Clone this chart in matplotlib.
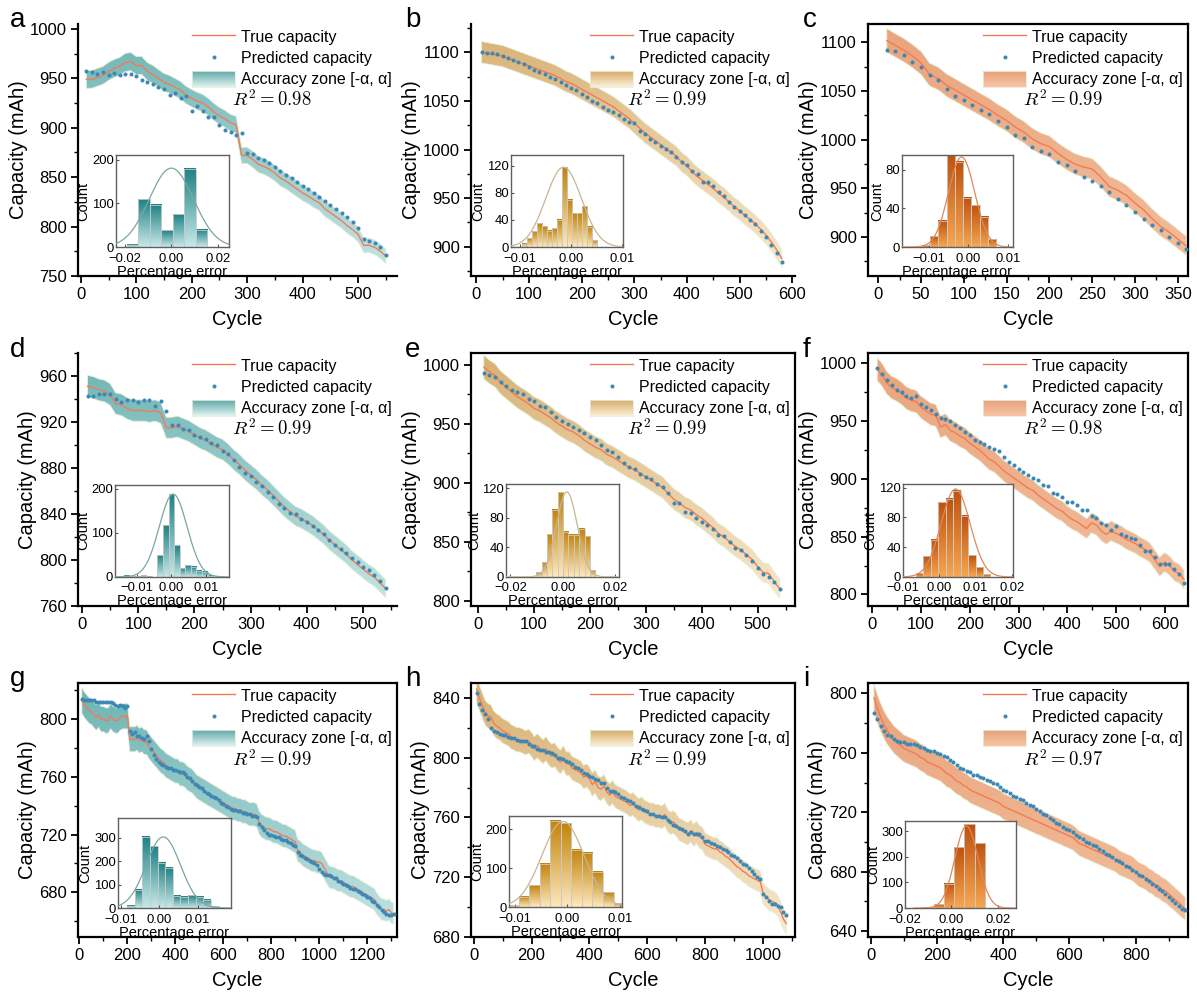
import numpy as np
import matplotlib
matplotlib.use('Agg')
import matplotlib.pyplot as plt
from matplotlib.patches import Rectangle, Patch
from matplotlib.lines import Line2D
from matplotlib.legend_handler import HandlerBase
from matplotlib.colors import LinearSegmentedColormap
from matplotlib.ticker import MultipleLocator

plt.rcParams['font.family'] = ['Liberation Sans', 'DejaVu Sans']
plt.rcParams['mathtext.fontset'] = 'cm'

# ---------------- data ----------------
# capacity curves, one value every 10 cycles starting at cycle 10
a_true = [949, 949, 951, 953, 957, 960, 962, 966, 967, 963,
          963, 957, 954, 950, 946, 944, 941, 938, 933, 930,
          927, 925, 921, 916, 912, 909, 905, 903, 872, 872,
          868, 863, 861, 858, 854, 849, 846, 842, 838, 834,
          831, 827, 824, 818, 814, 810, 806, 801, 797, 792,
          781, 781, 779, 775, 770]
a_pred = [957, 956, 954, 956, 953, 955, 953, 954, 954, 952,
          948, 946, 944, 941, 939, 933, 935, 930, 932, 917,
          922, 917, 911, 911, 903, 898, 896, 893, 895, 874,
          873, 869, 867, 864, 860, 856, 852, 849, 845, 841,
          838, 834, 830, 826, 822, 818, 814, 810, 805, 799,
          787, 785, 783, 779, 771]

b_true = [1100, 1099, 1098, 1097, 1096, 1094, 1092, 1090, 1088, 1086,
          1084, 1082, 1080, 1078, 1076, 1073, 1070, 1068, 1065, 1062,
          1059, 1056, 1053, 1050, 1047, 1044, 1040, 1036, 1032, 1027,
          1022, 1017, 1013, 1009, 1005, 1001, 997, 993, 987, 983,
          977, 972, 968, 964, 960, 955, 951, 946, 941, 937,
          932, 928, 923, 918, 912, 905, 897, 888]
b_pred = [1100, 1099, 1099, 1098, 1096, 1094, 1092, 1090, 1088, 1085,
          1082, 1080, 1078, 1075, 1072, 1069, 1066, 1063, 1061, 1057,
          1054, 1050, 1048, 1044, 1041, 1039, 1035, 1031, 1028, 1027,
          1019, 1016, 1011, 1008, 1004, 1001, 997, 992, 987, 984,
          978, 975, 967, 967, 962, 956, 952, 946, 941, 937,
          933, 928, 923, 916, 910, 902, 894, 884]

c_true = [1102, 1097, 1092, 1086, 1079, 1067, 1063, 1056, 1051, 1046,
          1041, 1036, 1031, 1025, 1020, 1013, 1008, 1001, 996, 993,
          986, 980, 975, 972, 970, 962, 952, 948, 943, 935,
          928, 919, 911, 905, 898, 891]
c_pred = [1092, 1091, 1087, 1080, 1075, 1067, 1061, 1052, 1045, 1041,
          1036, 1031, 1026, 1019, 1013, 1005, 1002, 993, 988, 985,
          977, 974, 968, 962, 958, 953, 946, 939, 933, 926,
          919, 912, 907, 900, 894, 888]

d_true = [951, 950, 948, 947, 944, 936, 935, 932, 930, 930,
          930, 929, 930, 928, 915, 915, 916, 914, 912, 909,
          906, 904, 901, 898, 896, 892, 887, 883, 878, 874,
          870, 865, 861, 856, 851, 846, 842, 838, 836, 833,
          830, 826, 822, 817, 813, 809, 805, 800, 796, 792,
          788, 785, 780, 775]
d_pred = [943, 943, 944, 944, 944, 940, 937, 939, 939, 937,
          939, 939, 934, 938, 930, 917, 917, 914, 913, 909,
          907, 905, 902, 900, 895, 892, 887, 881, 876, 873,
          868, 864, 859, 855, 849, 845, 841, 840, 836, 833,
          830, 826, 823, 817, 813, 810, 806, 802, 798, 794,
          791, 787, 782, 776]

e_true = [998, 994, 991, 985, 981, 977, 973, 970, 967, 963,
          961, 958, 955, 951, 948, 945, 943, 940, 936, 933,
          930, 928, 924, 922, 919, 916, 913, 911, 908, 905,
          902, 899, 896, 891, 886, 883, 879, 877, 873, 870,
          866, 862, 857, 854, 850, 846, 843, 839, 835, 829,
          824, 823, 816, 810]
e_pred = [993, 991, 990, 985, 982, 979, 977, 975, 971, 969,
          965, 964, 960, 956, 952, 950, 947, 945, 942, 939,
          936, 932, 928, 926, 922, 917, 913, 912, 907, 905,
          903, 899, 896, 891, 883, 883, 875, 874, 870, 867,
          864, 861, 856, 855, 850, 845, 843, 839, 834, 828,
          823, 820, 816, 810]

f_true = [995, 990, 983, 979, 977, 974, 970, 968, 967, 962,
          959, 956, 955, 945, 947, 942, 940, 937, 935, 931,
          928, 925, 921, 917, 915, 911, 907, 904, 901, 898,
          895, 892, 890, 886, 883, 880, 877, 874, 872, 868,
          865, 863, 860, 857, 862, 860, 855, 852, 855, 853,
          851, 848, 846, 844, 841, 839, 836, 830, 824, 828,
          825, 820, 818, 813]
f_pred = [996, 991, 986, 981, 977, 975, 972, 970, 972, 965,
          962, 960, 956, 953, 952, 950, 947, 944, 941, 938,
          934, 932, 930, 928, 926, 924, 919, 915, 912, 909,
          906, 903, 901, 899, 895, 894, 888, 887, 884, 880,
          880, 877, 873, 873, 868, 866, 862, 860, 856, 859,
          852, 851, 849, 848, 843, 838, 838, 832, 826, 826,
          826, 822, 818, 810]

g_true = [813, 810, 808, 806, 805, 803, 801, 803, 800, 800,
          799, 799, 802, 800, 799, 799, 801, 802, 802, 802,
          786, 786, 786, 787, 785, 786, 784, 784, 781, 779,
          777, 775, 773, 771, 770, 768, 767, 766, 765, 764,
          764, 762, 762, 761, 759, 758, 757, 755, 753, 752,
          751, 750, 749, 748, 747, 746, 745, 744, 743, 742,
          741, 740, 739, 738, 738, 737, 737, 736, 736, 735,
          734, 734, 734, 733, 728, 726, 725, 724, 724, 723,
          722, 722, 721, 720, 719, 719, 718, 717, 716, 715,
          709, 708, 706, 705, 704, 703, 702, 702, 701, 701,
          700, 697, 694, 691, 690, 690, 689, 688, 688, 687,
          686, 685, 684, 684, 683, 682, 681, 680, 679, 678,
          677, 676, 675, 672, 670, 668, 668, 667, 668, 666, 665]
g_pred = [814, 813, 813, 813, 813, 813, 812, 812, 812, 812,
          812, 812, 812, 811, 810, 809, 810, 809, 808, 809,
          792, 790, 791, 788, 788, 787, 786, 788, 785, 779,
          775, 772, 770, 769, 768, 767, 766, 766, 765, 765,
          764, 763, 763, 762, 760, 759, 757, 755, 754, 753,
          752, 750, 749, 748, 747, 746, 745, 744, 742, 741,
          740, 739, 738, 737, 737, 736, 736, 735, 735, 734,
          734, 733, 733, 732, 727, 725, 723, 721, 720, 720,
          719, 718, 718, 717, 716, 716, 715, 714, 713, 712,
          708, 706, 705, 704, 703, 702, 701, 700, 699, 696,
          694, 693, 692, 692, 691, 690, 690, 688, 687, 686,
          685, 684, 683, 682, 682, 681, 680, 679, 678, 677,
          676, 674, 673, 671, 670, 668, 666, 665, 664, 664, 665]

h_true = [846, 840, 835, 830, 828, 827, 823, 821, 820, 818,
          817, 816, 814, 813, 812, 812, 811, 810, 811, 809,
          806, 808, 806, 804, 806, 803, 801, 802, 799, 797,
          800, 796, 796, 793, 792, 791, 790, 787, 788, 786,
          782, 784, 780, 779, 781, 777, 775, 777, 774, 773,
          772, 771, 770, 768, 769, 767, 765, 766, 764, 763,
          762, 762, 761, 761, 760, 762, 758, 756, 757, 755,
          752, 751, 750, 749, 751, 748, 750, 747, 746, 742,
          741, 740, 739, 739, 737, 736, 734, 733, 731, 729,
          727, 726, 724, 723, 721, 720, 719, 718, 717, 709,
          707, 705, 704, 703, 701, 697, 692, 689]
h_pred = [843, 836, 832, 829, 826, 820, 818, 817, 816, 815,
          815, 814, 813, 813, 812, 811, 811, 811, 809, 808,
          808, 806, 805, 805, 804, 804, 803, 802, 800, 800,
          799, 798, 797, 796, 794, 793, 792, 790, 789, 788,
          787, 786, 785, 783, 783, 780, 778, 778, 777, 776,
          774, 773, 772, 771, 770, 768, 767, 766, 765, 764,
          762, 762, 761, 761, 760, 760, 758, 757, 755, 754,
          753, 752, 751, 749, 750, 749, 749, 749, 747, 744,
          744, 743, 742, 741, 740, 739, 738, 737, 735, 734,
          733, 731, 729, 728, 726, 724, 722, 720, 719, 709,
          707, 704, 702, 702, 701, 700, 697, 695]

i_true = [797, 790, 784, 779, 775, 772, 769, 767, 765, 763,
          762, 761, 760, 759, 757, 756, 754, 753, 752, 751,
          750, 748, 746, 745, 743, 741, 740, 738, 737, 735,
          734, 733, 732, 731, 730, 729, 728, 727, 726, 724,
          723, 722, 721, 720, 719, 718, 717, 716, 715, 714,
          713, 712, 711, 710, 709, 708, 707, 706, 705, 704,
          703, 701, 699, 698, 697, 696, 695, 694, 693, 692,
          691, 690, 689, 688, 686, 685, 684, 683, 682, 680,
          678, 677, 676, 674, 673, 671, 670, 668, 667, 665,
          663, 661, 659, 657, 655]
i_pred = [787, 783, 778, 775, 772, 771, 769, 768, 767, 767,
          766, 766, 766, 765, 764, 763, 762, 761, 761, 760,
          759, 758, 757, 755, 754, 752, 750, 749, 748, 747,
          745, 745, 744, 743, 742, 741, 740, 739, 737, 735,
          734, 733, 731, 730, 729, 728, 726, 725, 724, 722,
          721, 719, 718, 716, 715, 713, 712, 710, 709, 708,
          707, 705, 703, 702, 700, 699, 698, 697, 695, 694,
          692, 691, 690, 688, 687, 686, 684, 683, 681, 680,
          678, 677, 675, 674, 672, 670, 668, 667, 665, 663,
          661, 659, 657, 655, 654]

# accuracy zone half-width (fraction of true capacity) and R^2
alphas = [0.0095, 0.010, 0.011, 0.010, 0.010, 0.010, 0.011, 0.010, 0.012]
r2_vals = ['0.98', '0.99', '0.99', '0.99', '0.99', '0.98', '0.99', '0.99', '0.97']

# percentage-error histograms: first bin edge, bin width, counts
a_hist = (-0.0190, 0.0049, [5, 110, 97, 38, 75, 180, 40])
b_hist = (-0.0096, 0.00098, [5, 13, 23, 35, 31, 24, 28, 40, 118, 70, 50, 50, 60, 30, 10])
c_hist = (-0.0117, 0.00208, [2, 11, 27, 96, 88, 51, 43, 31, 8])
d_hist = (-0.0152, 0.0016, [2, 3, 2, 1, 4, 2, 0, 49, 118, 188, 72, 20, 27, 23, 14, 12, 3])
e_hist = (-0.0102, 0.00205, [6, 20, 58, 91, 115, 61, 57, 57, 65, 55, 9])
f_hist = (-0.0064, 0.00205, [5, 28, 50, 100, 105, 116, 82, 29, 13, 4])
g_hist = (-0.0085, 0.0020, [10, 78, 303, 263, 193, 172, 52, 48, 55, 48, 35, 8])
h_hist = (-0.0112, 0.0020, [5, 27, 56, 111, 222, 215, 147, 140, 91, 38, 10])
i_hist = (-0.0120, 0.0044, [3, 15, 95, 238, 327, 253])

# fitted normal curve: mean, std, peak height
fits = [(0.0, 0.0095, 181), (-0.0014, 0.0035, 118), (-0.0017, 0.0033, 93),
        (0.0005, 0.0040, 188), (0.0015, 0.0040, 115), (0.0045, 0.0040, 118),
        (0.0010, 0.0045, 303), (-0.0008, 0.0040, 220), (0.0065, 0.0050, 320)]

# ---------------- styling ----------------
teal = dict(band_top='#6cb3b3', band_bot='#c5e5e4', hist_top='#1e8184', hist_bot='#c8e9e9',
            curve='#7aa6a6', leg_top='#5ea9a9', leg_bot='#e2f2f1')
gold = dict(band_top='#d8b072', band_bot='#f9ead0', hist_top='#c3830a', hist_bot='#fee9bd',
            curve='#c8b594', leg_top='#d6ab68', leg_bot='#fcefd8')
orange = dict(band_top='#e9a47c', band_bot='#f3bf9c', hist_top='#bf520d', hist_bot='#f7a751',
              curve='#e0875a', leg_top='#e8a07a', leg_bot='#f6c5a5')

LINE_C = '#f37b54'
DOT_C = '#3d88b5'

panels = [
    dict(letter='a', true=a_true, pred=a_pred, hist=a_hist, theme=teal, frame=False,
         xlim=(-5, 570), ylim=(750, 1005), xt=(100, 50), yt=(50, 25),
         inset=[0.119, 0.115, 0.354, 0.365], hxlim=(-0.0237, 0.0246), hylim=(0, 211),
         hxt=[-0.02, 0.0, 0.02], hyt=[0, 100, 200]),
    dict(letter='b', true=b_true, pred=b_pred, hist=b_hist, theme=gold, frame=False,
         xlim=(-10, 605), ylim=(870, 1129), xt=(100, 50), yt=(50, 25),
         inset=[0.123, 0.115, 0.346, 0.365], hxlim=(-0.0117, 0.0102), hylim=(0, 136),
         hxt=[-0.01, 0.0, 0.01], hyt=[0, 40, 80, 120]),
    dict(letter='c', true=c_true, pred=c_pred, hist=c_hist, theme=orange, frame=True,
         xlim=(-12, 362), ylim=(860, 1119), xt=(50, 25), yt=(50, 25),
         inset=[0.106, 0.115, 0.347, 0.365], hxlim=(-0.0167, 0.0112), hylim=(0, 95),
         hxt=[-0.01, 0.0, 0.01], hyt=[0, 40, 80]),
    dict(letter='d', true=d_true, pred=d_pred, hist=d_hist, theme=teal, frame=False,
         xlim=(-7, 560), ylim=(760, 980), xt=(100, 50), yt=(40, 20),
         inset=[0.116, 0.115, 0.357, 0.364], hxlim=(-0.0162, 0.0165), hylim=(0, 209),
         hxt=[-0.01, 0.0, 0.01], hyt=[0, 100, 200]),
    dict(letter='e', true=e_true, pred=e_pred, hist=e_hist, theme=gold, frame=True,
         xlim=(-13, 567), ylim=(795.5, 1010), xt=(100, 50), yt=(50, 25),
         inset=[0.108, 0.115, 0.349, 0.368], hxlim=(-0.0217, 0.0214), hylim=(0, 126),
         hxt=[-0.02, 0.0, 0.02], hyt=[0, 40, 80, 120]),
    dict(letter='f', true=f_true, pred=f_pred, hist=f_hist, theme=orange, frame=True,
         xlim=(-9, 648), ylim=(790, 1009), xt=(100, 50), yt=(50, 25),
         inset=[0.109, 0.115, 0.344, 0.368], hxlim=(-0.0100, 0.0203), hylim=(0, 125),
         hxt=[-0.01, 0.0, 0.01, 0.02], hyt=[0, 40, 80, 120]),
    dict(letter='g', true=g_true, pred=g_pred, hist=g_hist, theme=teal, frame=True,
         xlim=(-6, 1324), ylim=(649, 825), xt=(200, 100), yt=(40, 20),
         inset=[0.125, 0.114, 0.354, 0.354], hxlim=(-0.0109, 0.0187), hylim=(0, 383),
         hxt=[-0.01, 0.0, 0.01], hyt=[0, 100, 200, 300]),
    dict(letter='h', true=h_true, pred=h_pred, hist=h_hist, theme=gold, frame=True,
         xlim=(-9, 1110), ylim=(680, 850), xt=(200, 100), yt=(40, 20),
         inset=[0.118, 0.118, 0.348, 0.358], hxlim=(-0.0110, 0.0104), hylim=(0, 234),
         hxt=[-0.01, 0.0, 0.01], hyt=[0, 100, 200]),
    dict(letter='i', true=i_true, pred=i_pred, hist=i_hist, theme=orange, frame=True,
         xlim=(-8, 958), ylim=(636, 807), xt=(200, 100), yt=(40, 20),
         inset=[0.116, 0.114, 0.345, 0.343], hxlim=(-0.0163, 0.0277), hylim=(0, 340),
         hxt=[-0.02, 0.0, 0.02], hyt=[0, 100, 200, 300]),
]


class GradPatch(Patch):
    def __init__(self, top, bot):
        super().__init__()
        self.top = top
        self.bot = bot


class GradHandler(HandlerBase):
    def create_artists(self, legend, orig, xd, yd, w, h, fs, trans):
        cmap = LinearSegmentedColormap.from_list('leg', [orig.bot, orig.top])
        n = 24
        arts = []
        for k in range(n):
            arts.append(Rectangle((-xd, -yd + h * k / n), w, h / n * 1.05,
                                  fc=cmap((k + 0.5) / n), ec='none', transform=trans))
        arts.append(Rectangle((-xd, -yd), w, h, fill=False, ec='#e6efd8', lw=0.6,
                              transform=trans))
        return arts


W, H = 1197, 998
fig = plt.figure(figsize=(W / 100, H / 100), dpi=100)

col_left = [78, 471, 868]
col_w = [319, 324, 320]
row_top = [24, 353, 683]
row_bot = [276, 606, 937]
letter_x = [10, 405, 803]
letter_base = [27, 357, 686]

grad = np.linspace(0, 1, 256).reshape(-1, 1)

for k, p in enumerate(panels):
    r, c = divmod(k, 3)
    rect = [col_left[c] / W, 1 - row_bot[r] / H, col_w[c] / W, (row_bot[r] - row_top[r]) / H]
    ax = fig.add_axes(rect)
    th = p['theme']
    y_true = np.array(p['true'], dtype=float)
    y_pred = np.array(p['pred'], dtype=float)
    cyc = np.arange(10, 10 * len(y_true) + 1, 10)
    al = alphas[k]

    # accuracy zone with vertical colour gradient
    poly = ax.fill_between(cyc, y_true * (1 - al), y_true * (1 + al), facecolor='none',
                           edgecolor='#e6efd8', lw=0.6, zorder=1.2)
    bcmap = LinearSegmentedColormap.from_list('band', [th['band_bot'], th['band_top']])
    im = ax.imshow(grad, extent=[p['xlim'][0], p['xlim'][1], p['ylim'][0], p['ylim'][1]],
                   origin='lower', aspect='auto', cmap=bcmap, zorder=1)
    im.set_clip_path(poly.get_paths()[0], transform=ax.transData)

    ax.plot(cyc, y_true, color=LINE_C, lw=1.0, zorder=3)
    ax.plot(cyc, y_pred, ls='none', marker='o', ms=2.9, mew=0, color=DOT_C, zorder=4)

    ax.set_xlim(*p['xlim'])
    ax.set_ylim(*p['ylim'])
    ax.xaxis.set_major_locator(MultipleLocator(p['xt'][0]))
    ax.xaxis.set_minor_locator(MultipleLocator(p['xt'][1]))
    ax.yaxis.set_major_locator(MultipleLocator(p['yt'][0]))
    ax.yaxis.set_minor_locator(MultipleLocator(p['yt'][1]))
    ax.tick_params(which='major', direction='out', length=5, width=1.3, labelsize=12, pad=3)
    ax.tick_params(which='minor', direction='out', length=3, width=1.0)
    for s in ax.spines.values():
        s.set_linewidth(1.6)
    if not p['frame']:
        ax.spines['top'].set_visible(False)
        ax.spines['right'].set_visible(False)
    ax.set_xlabel('Cycle', fontsize=14.5, labelpad=6)
    ax.set_ylabel('Capacity (mAh)', fontsize=14.5, labelpad=1.5)

    handles = [Line2D([], [], color=LINE_C, lw=1.0),
               Line2D([], [], ls='none', marker='o', ms=2.9, mew=0, color=DOT_C),
               GradPatch(th['leg_top'], th['leg_bot'])]
    labels = ['True capacity', 'Predicted capacity', 'Accuracy zone [-\u03b1, \u03b1]']
    ax.legend(handles, labels, loc='upper right', frameon=False, fontsize=11.5,
              handlelength=2.7, handleheight=1.15, labelspacing=0.3, handletextpad=0.4,
              borderaxespad=0.1, borderpad=0.2, numpoints=1,
              handler_map={GradPatch: GradHandler()})
    ax.text(0.483, 0.700, r'$R^2 = %s$' % r2_vals[k], transform=ax.transAxes,
            fontsize=13.5, va='center', ha='left')

    # inset histogram
    ins = ax.inset_axes(p['inset'])
    ins.set_facecolor('white')
    ins.set_zorder(6)
    h0, hw, counts = p['hist']
    hcmap = LinearSegmentedColormap.from_list('hist', [th['hist_bot'], th['hist_top']])
    for j, n in enumerate(counts):
        left = h0 + j * hw
        if n <= 0:
            continue
        ins.imshow(grad, extent=[left, left + hw, 0, n], origin='lower', aspect='auto',
                   cmap=hcmap, zorder=1)
        ins.add_patch(Rectangle((left, 0), hw, n, fill=False, ec='#c9c9c9', lw=0.6, zorder=2))
    mu, sig, pk = fits[k]
    xs = np.linspace(p['hxlim'][0], p['hxlim'][1], 300)
    ins.plot(xs, pk * np.exp(-0.5 * ((xs - mu) / sig) ** 2), color=th['curve'], lw=0.9, zorder=3)
    ins.set_xlim(*p['hxlim'])
    ins.set_ylim(*p['hylim'])
    ins.set_xticks(p['hxt'])
    ins.set_xticklabels(['%.2f' % v if v >= 0 else '\u2212%.2f' % -v for v in p['hxt']])
    ins.set_yticks(p['hyt'])
    ins.tick_params(direction='in', length=2, width=0.8, labelsize=9.4, pad=1.5,
                    colors='#555555', labelcolor='black')
    ins.tick_params(axis='x', pad=4)
    for s in ins.spines.values():
        s.set_linewidth(1.0)
        s.set_color('#606060')
    ins.set_xlabel('Percentage error', fontsize=10.5, labelpad=0)
    ins.set_ylabel('Count', fontsize=10.5, labelpad=1)

    fig.text(letter_x[c] / W, 1 - letter_base[r] / H, p['letter'], fontsize=20,
             ha='left', va='baseline')

fig.savefig('out.png', dpi=100)
